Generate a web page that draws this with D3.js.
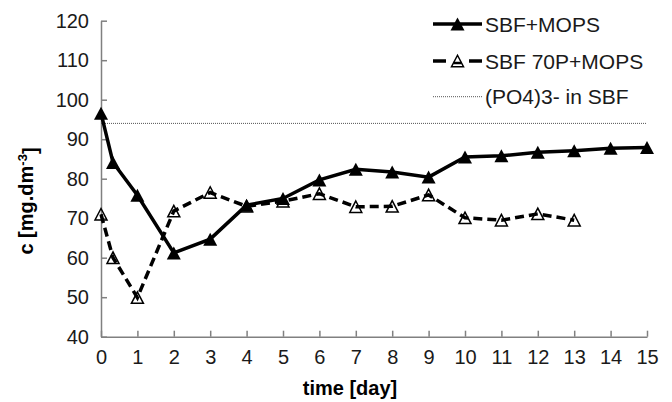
<!DOCTYPE html>
<html>
<head>
<meta charset="utf-8">
<script src="https://cdn.jsdelivr.net/npm/d3@7"></script>
<style>
  body { margin: 0; background: #fff; }
  text { font-family: Arial, "Liberation Sans", sans-serif; }
</style>
</head>
<body>
<div id="chart"></div>
<script>
// data
var daysMops = [0, 0.33, 1, 2, 3, 4, 5, 6, 7, 8, 9, 10, 11, 12, 13, 14, 15];
var sbfMops = [96.6, 84.1, 75.8, 61.2, 64.7, 73.3, 75.0, 79.7, 82.4, 81.7, 80.4, 85.5, 85.8, 86.7, 87.1, 87.7, 87.9];
var days70p = [0, 0.33, 1, 2, 3, 4, 5, 6, 7, 8, 9, 10, 11, 12, 13];
var sbf70p = [71.0, 60.0, 49.9, 71.8, 76.5, 73.0, 74.3, 76.2, 72.9, 73.0, 75.9, 70.1, 69.5, 71.1, 69.5];
var phosDays = [0, 15];
var phosValue = 94;
var xTicks = [0, 1, 2, 3, 4, 5, 6, 7, 8, 9, 10, 11, 12, 13, 14, 15];
var yTicks = [40, 50, 60, 70, 80, 90, 100, 110, 120];
var seriesNames = ["SBF+MOPS", "SBF 70P+MOPS", "(PO4)3- in SBF"];

var margin = {top: 20.7, right: 25, bottom: 65.3, left: 101},
    width = 672 - margin.left - margin.right,
    height = 402 - margin.top - margin.bottom;

var svg = d3.select("#chart")
    .append("svg")
    .attr("width", 672)
    .attr("height", 402)
    .append("g")
    .attr("transform", "translate(" + margin.left + "," + margin.top + ")");

var x = d3.scaleLinear().domain([0, 15]).range([0, width]);
var y = d3.scaleLinear().domain([40, 120]).range([height, 0]);

// axes, ticks point inward
var xAxis = svg.append("g")
    .attr("transform", "translate(0," + height + ")")
    .call(d3.axisBottom(x).tickValues(xTicks).tickSizeInner(-6).tickSizeOuter(0).tickPadding(13));
var yAxis = svg.append("g")
    .call(d3.axisLeft(y).tickValues(yTicks).tickSizeInner(-6).tickSizeOuter(0).tickPadding(12));

[xAxis, yAxis].forEach(function(ax) {
    ax.select(".domain").attr("stroke", "#808080").attr("stroke-width", 1.5);
    ax.selectAll(".tick line").attr("stroke", "#808080").attr("stroke-width", 1.5);
    ax.selectAll(".tick text")
        .style("font-size", "20px")
        .attr("fill", "#1a1a1a");
});

// triangle with its box centred on the point
function tri(w, h) {
    return "M0," + (-h / 2) + "L" + (w / 2) + "," + (h / 2) + "L" + (-w / 2) + "," + (h / 2) + "Z";
}

var line = d3.line()
    .x(function(d) { return x(d[0]); })
    .y(function(d) { return y(d[1]); });

// dotted reference line
svg.append("path")
    .datum(phosDays.map(function(d) { return [d, phosValue]; }))
    .attr("d", line)
    .attr("fill", "none")
    .attr("stroke", "#555")
    .attr("stroke-width", 1)
    .attr("stroke-dasharray", "1,1");

// SBF 70P+MOPS (dashed, hollow triangles)
var data70p = days70p.map(function(d, i) { return [d, sbf70p[i]]; });
svg.append("path")
    .datum(data70p)
    .attr("d", line)
    .attr("fill", "none")
    .attr("stroke", "#000")
    .attr("stroke-width", 3.5)
    .attr("stroke-dasharray", "9,5");
svg.selectAll(".m70p")
    .data(data70p)
    .enter()
    .append("path")
    .attr("class", "m70p")
    .attr("transform", function(d) { return "translate(" + x(d[0]) + "," + y(d[1]) + ")"; })
    .attr("d", tri(12, 11.5))
    .attr("fill", "none")
    .attr("stroke", "#000")
    .attr("stroke-width", 1.5);

// SBF+MOPS (solid, filled triangles)
var dataMops = daysMops.map(function(d, i) { return [d, sbfMops[i]]; });
svg.append("path")
    .datum(dataMops)
    .attr("d", line)
    .attr("fill", "none")
    .attr("stroke", "#000")
    .attr("stroke-width", 3.5);
svg.selectAll(".mMops")
    .data(dataMops)
    .enter()
    .append("path")
    .attr("class", "mMops")
    .attr("transform", function(d) { return "translate(" + x(d[0]) + "," + y(d[1]) + ")"; })
    .attr("d", tri(14, 13))
    .attr("fill", "#000");

// axis titles
svg.append("text")
    .attr("x", 350 - margin.left)
    .attr("y", 395 - margin.top)
    .style("text-anchor", "middle")
    .style("font-size", "20px")
    .style("font-weight", "bold")
    .text("time [day]");

var yTitle = svg.append("text")
    .attr("transform", "translate(" + (33 - margin.left) + "," + (201 - margin.top) + ") rotate(-90)")
    .style("text-anchor", "middle")
    .style("font-size", "20px")
    .style("font-weight", "bold");
yTitle.append("tspan").text("c [mg.dm");
yTitle.append("tspan").attr("dy", "-0.5em").style("font-size", "13px").text("-3");
yTitle.append("tspan").attr("dy", "0.5em").text("]");

// legend
var legend = d3.select("svg").append("g");
var legRows = [24, 61, 96.7];
var lx0 = 433, lx1 = 482, lmid = (lx0 + lx1) / 2;
legend.append("line")
    .attr("x1", lx0).attr("x2", lx1).attr("y1", legRows[0]).attr("y2", legRows[0])
    .attr("stroke", "#000").attr("stroke-width", 3.5);
legend.append("path")
    .attr("transform", "translate(" + lmid + "," + legRows[0] + ")")
    .attr("d", tri(14, 13)).attr("fill", "#000");
[[lx0, lx0 + 13], [lx1 - 13, lx1]].forEach(function(seg) {
    legend.append("line")
        .attr("x1", seg[0]).attr("x2", seg[1]).attr("y1", legRows[1]).attr("y2", legRows[1])
        .attr("stroke", "#000").attr("stroke-width", 3.5);
});
legend.append("line")
    .attr("x1", lmid - 4).attr("x2", lmid + 4).attr("y1", legRows[1] + 2).attr("y2", legRows[1] + 2)
    .attr("stroke", "#000").attr("stroke-width", 2.5);
legend.append("path")
    .attr("transform", "translate(" + lmid + "," + legRows[1] + ")")
    .attr("d", tri(12, 11.5)).attr("fill", "none").attr("stroke", "#000").attr("stroke-width", 1.5);
legend.append("line")
    .attr("x1", lx0).attr("x2", lx1).attr("y1", legRows[2]).attr("y2", legRows[2])
    .attr("stroke", "#555").attr("stroke-width", 1).attr("stroke-dasharray", "1,1");

legend.selectAll(".legText")
    .data(seriesNames)
    .enter()
    .append("text")
    .attr("class", "legText")
    .attr("x", 485)
    .attr("y", function(d, i) { return legRows[i] + 7.5; })
    .style("font-size", "21px")
    .attr("fill", "#1a1a1a")
    .text(function(d) { return d; });
</script>
</body>
</html>
